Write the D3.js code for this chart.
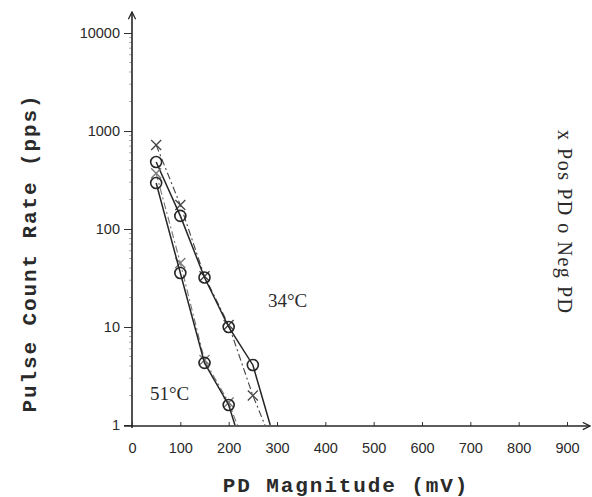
<!DOCTYPE html>
<html>
<head>
<meta charset="utf-8">
<script src="https://cdn.jsdelivr.net/npm/d3@7"></script>
<style>
  body { margin: 0; background: #fff; }
  svg { display: block; }
  .tick text { font-family: "Liberation Sans", Arial, sans-serif; font-size: 14.5px; fill: #2a2a2a; }
  .tick line { stroke: #333; }
  .axis-title { font-family: "Liberation Mono", "DejaVu Sans Mono", monospace; font-weight: bold; font-size: 21px; fill: #2a2a2a; letter-spacing: 1.9px; }
  .note { font-family: "Liberation Serif", "Times New Roman", serif; font-size: 19px; fill: #2a2a2a; }
</style>
</head>
<body>
<svg id="chart" width="592" height="497"></svg>
<script>
// PD magnitude (mV) where points were measured
const magnitudes = [50, 100, 150, 200, 250];

// pulse count rate (pps)
const pos34 = [720, 176, 33, 10.5, 2.0];
const neg34 = [483, 136, 32, 10, 4.1];
const neg51 = [295, 35.6, 4.3, 1.6];
const pos51 = [370, 45, 4.6, 1.7];

// where each fitted line meets the 1 pps axis (mV)
const pos34End = 275;
const neg34End = 286;
const neg51End = 213;
const pos51End = 218;

const xTicks = [0, 100, 200, 300, 400, 500, 600, 700, 800, 900];
const yTicks = [1, 10, 100, 1000, 10000];

var svg = d3.select('#chart');

var x = d3.scaleLinear().domain([0, 900]).range([132, 567]);
var y = d3.scaleLog().domain([1, 10000]).range([425, 33]);

var ink = '#262626';

// arrow head for both axes
svg.append('defs').append('marker')
  .attr('id', 'arrow')
  .attr('viewBox', '0 0 10 10')
  .attr('refX', 9).attr('refY', 5)
  .attr('markerWidth', 9).attr('markerHeight', 9)
  .attr('markerUnits', 'userSpaceOnUse')
  .attr('orient', 'auto')
  .append('path')
  .attr('d', 'M1,1 L9,5 L1,9')
  .attr('fill', 'none')
  .attr('stroke', ink)
  .attr('stroke-width', 1.4);

// y axis
var yAxis = svg.append('g')
  .attr('transform', 'translate(' + x(0) + ',0)')
  .call(d3.axisLeft(y).tickValues(yTicks).tickFormat(d3.format('d')).tickSize(8).tickPadding(4));
yAxis.select('.domain').remove();

// faint minor ticks on the log axis
var minor = [];
yTicks.slice(0, -1).forEach(function (d) {
  for (var k = 2; k < 10; k++) minor.push(d * k);
});
svg.append('g')
  .selectAll('line')
  .data(minor)
  .enter()
  .append('line')
  .attr('x1', x(0) - 3).attr('x2', x(0))
  .attr('y1', d => y(d)).attr('y2', d => y(d))
  .attr('stroke', '#999')
  .attr('stroke-width', 0.8);

svg.append('line')
  .attr('x1', x(0)).attr('x2', x(0))
  .attr('y1', 428).attr('y2', 12)
  .attr('stroke', ink).attr('stroke-width', 1.6)
  .attr('marker-end', 'url(#arrow)');

// x axis
var xAxis = svg.append('g')
  .attr('transform', 'translate(0,426)')
  .call(d3.axisBottom(x).tickValues(xTicks).tickSizeInner(-4).tickSizeOuter(0).tickPadding(17));
xAxis.select('.domain').remove();

svg.append('line')
  .attr('x1', 124).attr('x2', 590)
  .attr('y1', 426).attr('y2', 426)
  .attr('stroke', ink).attr('stroke-width', 1.6)
  .attr('marker-end', 'url(#arrow)');

// axis titles
svg.append('text')
  .attr('class', 'axis-title')
  .attr('x', 346).attr('y', 492)
  .attr('text-anchor', 'middle')
  .text('PD Magnitude (mV)');

svg.append('text')
  .attr('class', 'axis-title')
  .attr('transform', 'translate(36,253) rotate(-90)')
  .attr('text-anchor', 'middle')
  .text('Pulse Count Rate (pps)');

// series
var series = [
  { vals: pos34, end: pos34End, mark: 'x', dash: '7,3,2,3', width: 1.1, color: '#444' },
  { vals: neg34, end: neg34End, mark: 'o', dash: null, width: 1.5, color: ink },
  { vals: pos51, end: pos51End, mark: 'x', dash: '7,3,2,3', width: 1.1, color: '#777' },
  { vals: neg51, end: neg51End, mark: 'o', dash: null, width: 1.5, color: ink }
];

var line = d3.line()
  .x(d => x(d[0]))
  .y(d => y(d[1]));

series.forEach(function (s) {
  var pts = s.vals.map((v, i) => [magnitudes[i], v]);
  var path = pts.concat([[s.end, 1]]);

  svg.append('path')
    .datum(path)
    .attr('d', line)
    .attr('fill', 'none')
    .attr('stroke', s.color)
    .attr('stroke-width', s.width)
    .attr('stroke-dasharray', s.dash);

  var g = svg.append('g')
    .selectAll('g')
    .data(pts)
    .enter()
    .append('g')
    .attr('transform', d => 'translate(' + x(d[0]) + ',' + y(d[1]) + ')');

  if (s.mark === 'o') {
    g.append('circle')
      .attr('r', 5.5)
      .attr('fill', 'none')
      .attr('stroke', s.color)
      .attr('stroke-width', 1.6);
  } else {
    g.append('path')
      .attr('d', 'M-5,-5 L5,5 M-5,5 L5,-5')
      .attr('stroke', s.color)
      .attr('stroke-width', 1.3);
  }
});

// temperature notes
svg.append('text').attr('class', 'note')
  .attr('x', 268).attr('y', 307)
  .text('34°C');
svg.append('text').attr('class', 'note')
  .attr('x', 150).attr('y', 400)
  .text('51°C');

// legend, written sideways
svg.append('text')
  .attr('class', 'note')
  .attr('transform', 'translate(558,130) rotate(90)')
  .attr('textLength', 183)
  .attr('lengthAdjust', 'spacing')
  .style('font-size', '20px')
  .text('x Pos PD o Neg PD');
</script>
</body>
</html>
